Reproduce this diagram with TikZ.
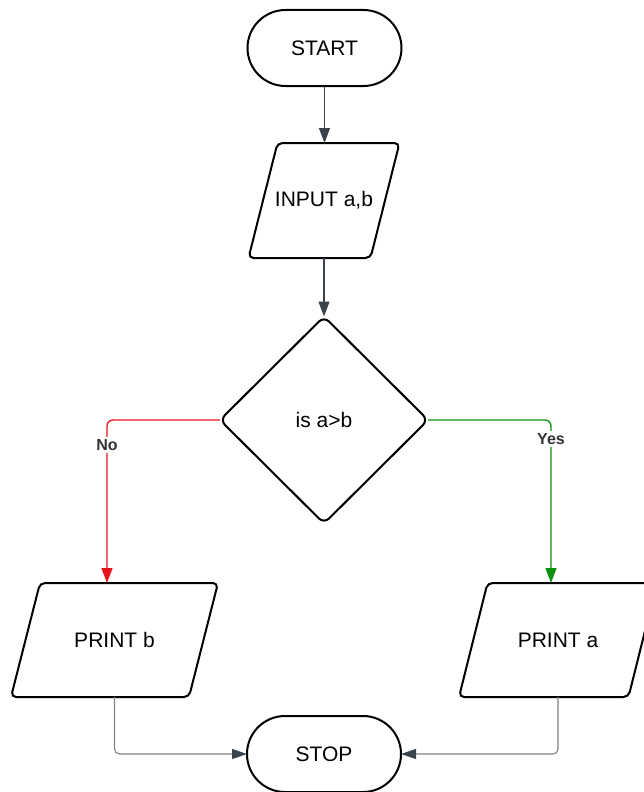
\documentclass[tikz,border=0pt]{standalone}
\usepackage{fontspec}
\setmainfont{Liberation Sans}
\usetikzlibrary{shapes.geometric,arrows.meta}
\definecolor{conn}{HTML}{3B444D}
\definecolor{lgray}{HTML}{7D848B}
\definecolor{nored}{HTML}{E8141B}
\definecolor{yesgreen}{HTML}{0E8F0E}
\newcommand\drawpara[2]{%
  \draw[iobox] ([xshift=#2]#1.north west) -- (#1.north east) -- ([xshift=-#2]#1.south east) -- (#1.south west) -- cycle;}
\begin{document}
\begin{tikzpicture}[x=1pt,y=-1pt,
 every node/.style={font=\fontsize{21}{25}\selectfont, inner sep=0pt, outer sep=0pt, text=black},
 term/.style={draw=black, line width=2pt, rectangle, rounded corners=38pt, minimum width=154pt, minimum height=76pt},
 io/.style={rectangle, minimum height=115pt},
 iobox/.style={draw=black, line width=2pt, rounded corners=5pt},
 dec/.style={draw=black, line width=2pt, diamond, minimum width=208pt, minimum height=207pt, rounded corners=7pt},
 arr/.style={draw=conn, line width=1.3pt, -{Triangle[length=15pt,width=11pt]}},
 garr/.style={draw=lgray, line width=1.1pt, rounded corners=5pt, -{Triangle[length=15pt,width=10pt,color=conn]}},
 lbl/.style={fill=white, font=\bfseries\fontsize{16}{18}\selectfont, text=black!80, inner sep=2pt}
]
\useasboundingbox (0,0) rectangle (644,792);
\fill[white] (0,0) rectangle (644,792);
\node[term] (start) at (324.5,48) {START};
\node[io, minimum width=151pt] (inp) at (324,200.5) {INPUT a,b};
\drawpara{inp}{29pt}
\node[dec] (dec) at (324,420) {is a>b};
\node[io, minimum width=207pt, minimum height=114pt] (pb) at (114.5,640) {PRINT b};
\drawpara{pb}{29pt}
\node[io, minimum width=198pt, minimum height=114pt] (pa) at (558,640) {PRINT a};
\drawpara{pa}{28.5pt}
\node[term] (stop) at (324,754) {STOP};

\draw[arr] (start.south) -- (start.south |- inp.north);
\draw[arr] (inp.south) -- (dec.north);
\draw[arr, draw=nored, rounded corners=6pt] (dec.west) -| ([xshift=-7.5pt]pb.north);
\draw[arr, draw=yesgreen, rounded corners=6pt] (dec.east) -| ([xshift=-7pt]pa.north);
\node[lbl] (nolbl) at (107,445) {No};
\node[lbl] (yeslbl) at (551,439) {Yes};
\draw[garr] (pb.south) |- (stop.west);
\draw[garr] (pa.south) |- (stop.east);
\end{tikzpicture}
\end{document}
